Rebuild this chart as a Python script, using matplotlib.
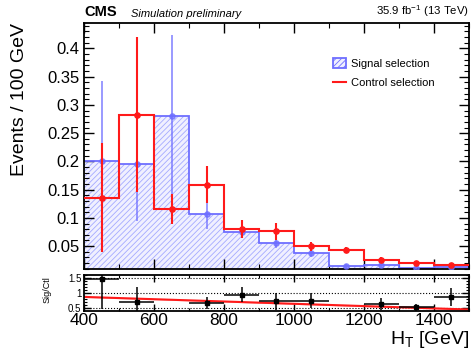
import numpy as np
import matplotlib
matplotlib.use('Agg')
import matplotlib.pyplot as plt
from matplotlib.patches import Patch
from matplotlib.lines import Line2D
from matplotlib.ticker import MultipleLocator

plt.rcParams['font.family'] = ['Liberation Sans', 'DejaVu Sans']
plt.rcParams['hatch.linewidth'] = 0.6

# HT binning (GeV)
edges = [400, 500, 600, 700, 800, 900, 1000, 1100, 1200, 1300, 1400, 1500]

# signal selection (blue, hatched)
sig = [0.200, 0.195, 0.280, 0.106, 0.075, 0.056, 0.038, 0.015, 0.016, 0.011, 0.013]
sig_err = [0.143, 0.100, 0.143, 0.025, 0.010, 0.010, 0.007, 0.003, 0.003, 0.002, 0.002]

# control selection (red)
ctl = [0.136, 0.283, 0.116, 0.159, 0.080, 0.076, 0.050, 0.043, 0.026, 0.020, 0.017]
ctl_err = [0.097, 0.137, 0.027, 0.033, 0.016, 0.015, 0.008, 0.006, 0.004, 0.003, 0.003]

# ratio Sig/Ctl (nan = out of range)
ratio = [1.47, 0.72, np.nan, 0.68, 0.95, 0.73, 0.75, np.nan, 0.63, 0.53, 0.88]
ratio_err = [1.00, 0.50, np.nan, 0.20, 0.25, 0.27, 0.25, np.nan, 0.20, 0.12, 0.30]

# linear fit to the ratio
fit_x = [400, 1500]
fit_y = [0.88, 0.46]
fit_band = 0.02

centers = [(a + b) / 2 for a, b in zip(edges[:-1], edges[1:])]
half = [(b - a) / 2 for a, b in zip(edges[:-1], edges[1:])]

blue = '#6e6eff'
red = '#ff1a1a'

fig = plt.figure(figsize=(4.72, 3.52), dpi=100)
ax = fig.add_axes([0.178, 0.2366, 0.8156, 0.698])
rax = fig.add_axes([0.178, 0.1173, 0.8156, 0.1006])

# signal histogram: hatched fill + outline
ax.stairs(sig, edges, fill=True, facecolor='#f0f0ff', edgecolor='#a4aaff',
          hatch='//////', linewidth=0, zorder=1)
ax.stairs(sig, edges, color=blue, linewidth=1.3, baseline=None, zorder=2)
ax.errorbar(centers, sig, yerr=sig_err, fmt='o', color=blue, ms=3.8,
            elinewidth=1.3, alpha=0.75, zorder=3)

# control histogram
ax.stairs(ctl, edges, color=red, linewidth=1.5, baseline=None, zorder=4)
ax.errorbar(centers, ctl, yerr=ctl_err, fmt='o', color=red, ms=3.8,
            elinewidth=1.5, zorder=5)

ax.set_xlim(400, 1500)
ax.set_ylim(0.01, 0.445)
ax.xaxis.set_major_locator(MultipleLocator(200))
ax.xaxis.set_minor_locator(MultipleLocator(100))
ax.yaxis.set_minor_locator(MultipleLocator(0.01))
ax.set_yticks([0.05, 0.1, 0.15, 0.2, 0.25, 0.3, 0.35, 0.4])
ax.set_yticklabels(['0.05', '0.1', '0.15', '0.2', '0.25', '0.3', '0.35', '0.4'])
ax.tick_params(which='both', direction='in', top=True, right=True,
               labelbottom=False, labelsize=12, pad=3)
ax.tick_params(which='major', length=7, width=1)
ax.tick_params(which='minor', length=3.5, width=0.8)
for s in ax.spines.values():
    s.set_linewidth(1.3)

handles = [Patch(facecolor='#f0f0ff', edgecolor=blue, hatch='//////', linewidth=1.3),
           Line2D([0], [0], color=red, lw=1.5)]
ax.legend(handles, ['Signal selection', 'Control selection'], loc='upper left',
          bbox_to_anchor=(0.635, 0.875), frameon=False, fontsize=8,
          handlelength=1.2, handleheight=1.0, handletextpad=0.45,
          labelspacing=0.75, borderaxespad=0)

# ratio panel
for yl in [0.5, 1.0, 1.5]:
    rax.axhline(yl, color='black', ls=':', lw=0.8, zorder=0)
fx = np.array(fit_x)
fy = np.array(fit_y)
rax.fill_between(fx, fy - fit_band, fy + fit_band, color='#ffaaaa', lw=0, zorder=1)
rax.plot(fx, fy, color=red, lw=1.5, zorder=2)
rax.errorbar(centers, ratio, xerr=half, yerr=ratio_err, fmt='s', color='black',
             ms=3, elinewidth=1.1, capsize=0, zorder=3)
rax.set_xlim(400, 1500)
rax.set_ylim(0.42, 1.6)
rax.set_yticks([0.5, 1, 1.5])
rax.set_yticklabels(['0.5', '1', '1.5'])
rax.xaxis.set_major_locator(MultipleLocator(200))
rax.xaxis.set_minor_locator(MultipleLocator(100))
rax.yaxis.set_minor_locator(MultipleLocator(0.1))
rax.tick_params(which='both', direction='in', top=True, right=True)
rax.tick_params(axis='x', labelsize=12.5, pad=2)
rax.tick_params(axis='y', labelsize=7, pad=2)
rax.tick_params(which='major', length=5, width=1)
rax.tick_params(which='minor', length=2.5, width=0.8)
for s in rax.spines.values():
    s.set_linewidth(1.3)

# labels
fig.text(0.041, 0.935, 'Events / 100 GeV', rotation=90, ha='center', va='top', fontsize=14)
fig.text(0.100, 0.178, 'Sig/Ctl', rotation=90, ha='center', va='center', fontsize=6.5)
fig.text(0.993, 0.035, r'H$_\mathregular{T}$ [GeV]', ha='right', va='center', fontsize=14)
fig.text(0.178, 0.945, 'CMS', ha='left', va='bottom', fontsize=10.5, fontweight='bold')
fig.text(0.278, 0.947, 'Simulation preliminary', ha='left', va='bottom', fontsize=8, style='italic')
fig.text(0.993, 0.945, r'35.9 fb$^\mathregular{-1}$ (13 TeV)', ha='right', va='bottom', fontsize=8.2)

fig.savefig('out.png', dpi=100)
